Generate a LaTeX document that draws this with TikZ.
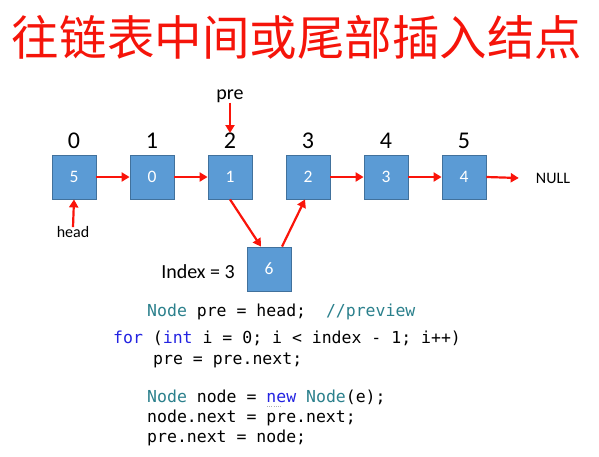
\documentclass[tikz,border=0pt]{standalone}
\usepackage{fontspec}
\setmainfont{Carlito}
\newfontfamily\cjk{Noto Sans CJK SC}
\newfontfamily\codefont{DejaVu Sans Mono}
\usetikzlibrary{arrows.meta}
\definecolor{boxfill}{RGB}{91,155,213}
\definecolor{boxedge}{RGB}{65,113,156}
\definecolor{arrowred}{RGB}{250,20,10}
\definecolor{titlered}{RGB}{245,20,10}
\definecolor{typeteal}{RGB}{43,128,140}
\definecolor{kwblue}{RGB}{35,35,225}
\newcommand{\ty}[1]{\textcolor{typeteal}{#1}}
\newcommand{\kw}[1]{\textcolor{kwblue}{#1}}
\begin{document}
\begin{tikzpicture}[x=1pt,y=-1pt,
  listbox/.style={draw=boxedge,line width=0.8pt,fill=boxfill,minimum size=44pt,inner sep=0pt,
    text=white,font=\fontsize{17.5}{17.5}\selectfont},
  idx/.style={font=\fontsize{24}{24}\selectfont,inner sep=1pt},
  lbl/.style={font=\fontsize{16}{16}\selectfont,inner sep=1pt},
  link/.style={draw=arrowred,line width=2.2pt,-{Triangle[length=8pt,width=9pt]}},
  code/.style={anchor=west,inner sep=0pt,font=\codefont\fontsize{16.5}{16.5}\selectfont}]
\useasboundingbox (0,0) rectangle (599,456);

% title
\node[text=titlered,font=\cjk\fontsize{47.5}{47.5}\selectfont] (title) at (297,37) {往链表中间或尾部插入结点};

% list nodes with their positions above
\foreach \i/\v/\x in {0/5/74,1/0/152,2/1/230,3/2/308,4/3/386,5/4/464}{
  \node[listbox] (b\i) at (\x,177) {\v};
  \node[idx] (i\i) at (\x,141) {\i};
}
\node[listbox] (b6) at (269,269) {6};
\node[lbl,font=\fontsize{20}{20}\selectfont] (index) at (198,272) {Index = 3};
\node[lbl] (null) at (553,178) {NULL};
\node[lbl,font=\fontsize{20}{20}\selectfont] (pre) at (230,96) {pre};
\node[lbl] (head) at (73,232) {head};

% links
\foreach \a/\b in {0/1,1/2,3/4,4/5}{
  \draw[link] (b\a.east) -- (b\b.west);
}
\draw[link] (b5.east) -- ([xshift=-16pt]null.west);
\draw[link] ([yshift=1pt]pre.south) -- ([yshift=-1pt]i2.north);
\draw[link] ([yshift=-2pt]head.north) -- (b0.south);
\draw[link] (b2.south) -- ([xshift=-8pt]b6.north);
\draw[link] ([xshift=13pt]b6.north) -- ([xshift=-3pt]b3.south);

% code
\node[code] (c1) at (147,312) {\ty{Node} pre = head;\ \ \ty{//preview}};
\node[code] (c2) at (113,338) {\kw{for} (\kw{int} i = 0; i < index - 1; i++)};
\node[code] (c3) at (153,360) {pre = pre.next;};
\node[code] (c4) at (147,397) {\ty{Node} node = \kw{new} \ty{Node}(e);};
\node[code] (c5) at (147,418) {node.next = pre.next;};
\node[code] (c6) at (147,438) {pre.next = node;};
% dotted hint under the keyword "new"
\draw[gray!60,line width=0.8pt,dash pattern=on 0.8pt off 1.4pt]
  ([xshift=120pt,yshift=-9.5pt]c4.west) -- ([xshift=134pt,yshift=-9.5pt]c4.west);
\end{tikzpicture}
\end{document}
